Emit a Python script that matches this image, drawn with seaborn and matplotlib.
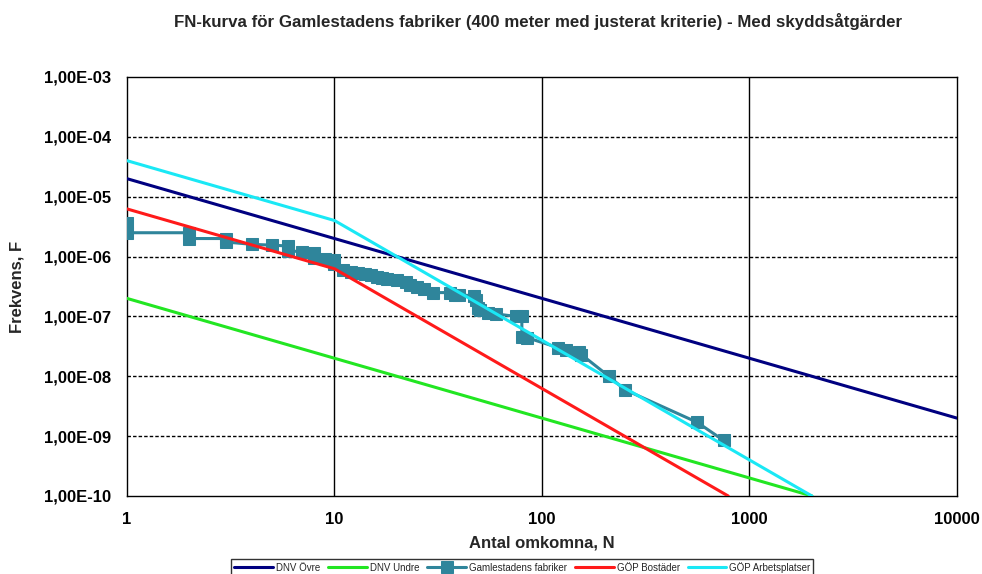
import numpy as np
import pandas as pd
import matplotlib
matplotlib.use("Agg")
import matplotlib.pyplot as plt
import matplotlib.ticker as mticker
import seaborn as sns

# Riktlinjer (N, F)
dnv_ovre_n = [1, 10000]
dnv_ovre_f = [2e-5, 2e-9]
dnv_undre_n = [1, 2000]
dnv_undre_f = [2e-7, 1e-10]
gop_bost_n = [1, 10, 790]
gop_bost_f = [6.25e-6, 6.25e-7, 1e-10]
gop_arb_n = [1, 10, 2000]
gop_arb_f = [4e-5, 4e-6, 1e-10]

# FN-kurva Gamlestadens fabriker
gam_n = [1, 1, 2, 2, 3, 3, 4, 5, 6, 6, 7, 8, 8, 9, 10, 10, 11, 12, 13, 14, 15,
         16, 17, 18, 20, 22, 23, 25, 27, 30, 36, 38, 40, 47, 48, 49, 50, 55, 60,
         75, 80, 80, 85, 120, 130, 150, 155, 210, 250, 560, 750]
gam_f = [3.6e-6, 2.5e-6, 2.5e-6, 2.0e-6, 2.0e-6, 1.75e-6, 1.6e-6, 1.55e-6, 1.5e-6,
         1.25e-6, 1.2e-6, 1.15e-6, 0.95e-6, 0.9e-6, 0.87e-6, 0.75e-6, 0.6e-6,
         5.5e-7, 5.4e-7, 5.2e-7, 5.0e-7, 4.6e-7, 4.4e-7, 4.2e-7, 4.1e-7, 3.8e-7,
         3.4e-7, 3.1e-7, 2.9e-7, 2.5e-7, 2.5e-7, 2.3e-7, 2.3e-7, 2.2e-7, 1.9e-7,
         1.4e-7, 1.3e-7, 1.15e-7, 1.1e-7, 1.0e-7, 1.0e-7, 4.5e-8, 4.4e-8, 3.0e-8,
         2.7e-8, 2.5e-8, 2.3e-8, 1.0e-8, 6.0e-9, 1.7e-9, 8.5e-10]

sns.set_style("white")
plt.rcParams['font.family'] = ['Liberation Sans', 'DejaVu Sans']
plt.rcParams['font.weight'] = 'bold'

fig = plt.figure(figsize=(9.82, 5.74), dpi=100)
ax = fig.add_axes([0.1293, 0.1359, 0.8452, 0.73])

series = [
    ("DNV Övre", dnv_ovre_n, dnv_ovre_f, "#000080", None),
    ("DNV Undre", dnv_undre_n, dnv_undre_f, "#22e622", None),
    ("Gamlestadens fabriker", gam_n, gam_f, "#2f859b", "s"),
    ("GÖP Bostäder", gop_bost_n, gop_bost_f, "#ff1a1a", None),
    ("GÖP Arbetsplatser", gop_arb_n, gop_arb_f, "#1ae8f5", None),
]
for name, n, f, col, mk in series:
    df = pd.DataFrame({"N": n, "F": f})
    sns.lineplot(data=df, x="N", y="F", ax=ax, color=col, lw=2.2, sort=False,
                 estimator=None, label=name, marker=mk, markersize=8,
                 markeredgecolor=col, zorder=3)

ax.set_xscale("log")
ax.set_yscale("log")
ax.set_xlim(1, 10000)
ax.set_ylim(1e-10, 1e-3)

for x in [10, 100, 1000]:
    ax.axvline(x, color="black", lw=1, zorder=1)
for e in range(-9, -3):
    ax.axhline(10.0 ** e, color="black", lw=1, ls=(0, (2.5, 1.5)), zorder=1)

ax.xaxis.set_major_formatter(mticker.FuncFormatter(lambda v, p: f"{v:g}"))
ax.yaxis.set_major_locator(mticker.LogLocator(base=10, numticks=20))
ax.yaxis.set_major_formatter(
    mticker.FuncFormatter(lambda v, p: f"{v:.2E}".replace(".", ",")))
ax.yaxis.set_minor_locator(mticker.LogLocator(base=10, subs=np.arange(2, 10), numticks=20))
ax.yaxis.set_minor_formatter(mticker.NullFormatter())
ax.xaxis.set_minor_formatter(mticker.NullFormatter())

ax.tick_params(which="major", direction="inout", length=7, width=1, labelsize=12, colors="black")
ax.tick_params(axis="y", which="major", pad=8)
ax.tick_params(axis="x", which="minor", direction="in", length=4, width=1)
ax.tick_params(axis="y", which="minor", direction="out", length=3, width=1)
ax.tick_params(axis="x", pad=8)
for s in ax.spines.values():
    s.set_color("black")
    s.set_linewidth(1)

ax.set_xlabel("Antal omkomna, N", fontsize=12, fontweight="bold", labelpad=6)
ax.set_ylabel("Frekvens, F", fontsize=12, fontweight="bold", labelpad=14)
fig.suptitle("FN-kurva för Gamlestadens fabriker (400 meter med justerat kriterie) - Med skyddsåtgärder",
             fontsize=12.2, fontweight="bold", x=0.548, y=0.978)

handles, labels = ax.get_legend_handles_labels()
ax.get_legend().remove()
leg = fig.legend(handles, labels, loc="upper center", bbox_to_anchor=(0.532, 0.035),
                 ncol=5, fontsize=7, frameon=True, fancybox=False, edgecolor="black",
                 handlelength=4, columnspacing=0.8, handletextpad=0.3, borderpad=0.3)
leg.get_frame().set_linewidth(1)
for t in leg.get_texts():
    t.set_fontweight("normal")

fig.savefig("out.png", dpi=100)
